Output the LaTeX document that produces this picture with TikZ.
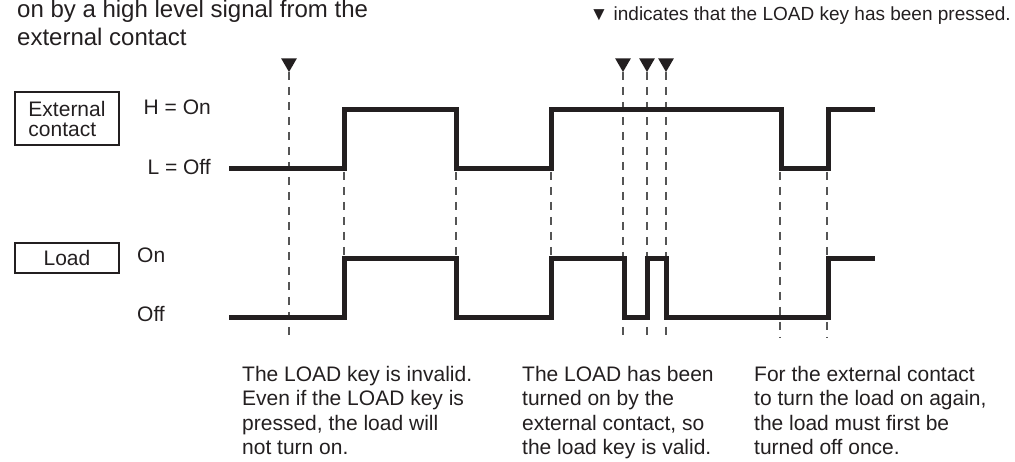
\documentclass[tikz,border=0pt]{standalone}
\usepackage{fontspec}
\setmainfont{Liberation Sans}
\usetikzlibrary{shapes.geometric}
\definecolor{sigblack}{RGB}{35,31,32}
\definecolor{dashgray}{RGB}{85,85,85}

\begin{document}
\begin{tikzpicture}[
    x=1pt, y=-1pt,
    sig/.style={draw=sigblack, line width=5pt, line join=miter},
    keyline/.style={draw=dashgray, line width=1.3pt, dash pattern=on 8pt off 7pt},
    keymark/.style={regular polygon, regular polygon sides=3, shape border rotate=180,
                    fill=sigblack, inner sep=0pt, outer sep=0pt, minimum size=18pt},
    namebox/.style={rectangle, draw=sigblack, line width=1.2pt, minimum width=104pt,
                    align=left, text=sigblack, font=\fontsize{21}{20}\selectfont},
    lbl/.style={inner sep=0pt, text=sigblack, font=\fontsize{21}{24.5}\selectfont},
    note/.style={lbl, align=left, anchor=north west},
]
    \useasboundingbox (0,0) rectangle (1015,462);

    % Heading and legend
    \node[lbl, align=left, anchor=north west, font=\fontsize{24}{28}\selectfont] (head) at (17,-0.5)
        {on by a high level signal from the\\external contact};
    \node[lbl, anchor=base east, font=\fontsize{19}{23}\selectfont] (legend) at (1011,21)
        {▼ indicates that the LOAD key has been pressed.};

    % Signal names and levels
    \node[namebox, minimum height=53pt] (ext) at (67,118.5) {External\\contact};
    \node[namebox, minimum height=30pt, align=center] (load) at (67,258) {Load};
    \node[lbl, anchor=base east] (exton) at (211,115) {H = On};
    \node[lbl, anchor=base east] (extoff) at (211,175) {L = Off};
    \node[lbl, anchor=base west] (loadon) at (137,263) {On};
    \node[lbl, anchor=base west] (loadoff) at (137,322) {Off};

    % LOAD key presses
    \foreach \x/\n in {289/1, 623/2, 647/3, 666/4} {
        \node[keymark] (mark\n) at (\x,63) {};
        \coordinate (markend\n) at (\x,341);
        \draw[keyline] (mark\n.corner 1) -- (markend\n);
    }

    % Edges of the external contact
    \foreach \x in {344, 456, 551} {
        \coordinate (edgetop\x) at (\x,172);
        \coordinate (edgebot\x) at (\x,257);
        \draw[keyline] (edgetop\x) -- (edgebot\x);
    }
    \foreach \x in {780, 827} {
        \coordinate (edgetop\x) at (\x,172);
        \coordinate (edgebot\x) at (\x,338);
        \draw[keyline] (edgetop\x) -- (edgebot\x);
    }

    % Signals
    \draw[sig] (229,169) -| (344,110) -| (456,169) -| (551,110) -| (781,169) -| (828,110) -- (875,110);
    \draw[sig] (229,318) -| (344,259) -| (456,318) -| (551,259) -| (624,318) -| (647,259)
        -| (666,318) -| (828,259) -- (875,259);

    % Notes
    \node[note] (note1) at (242,366) {The LOAD key is invalid.\\Even if the LOAD key is\\pressed, the load will\\not turn on.};
    \node[note] (note2) at (522,366) {The LOAD has been\\turned on by the\\external contact, so\\the load key is valid.};
    \node[note] (note3) at (754,366) {For the external contact\\to turn the load on again,\\the load must first be\\turned off once.};
\end{tikzpicture}
\end{document}
